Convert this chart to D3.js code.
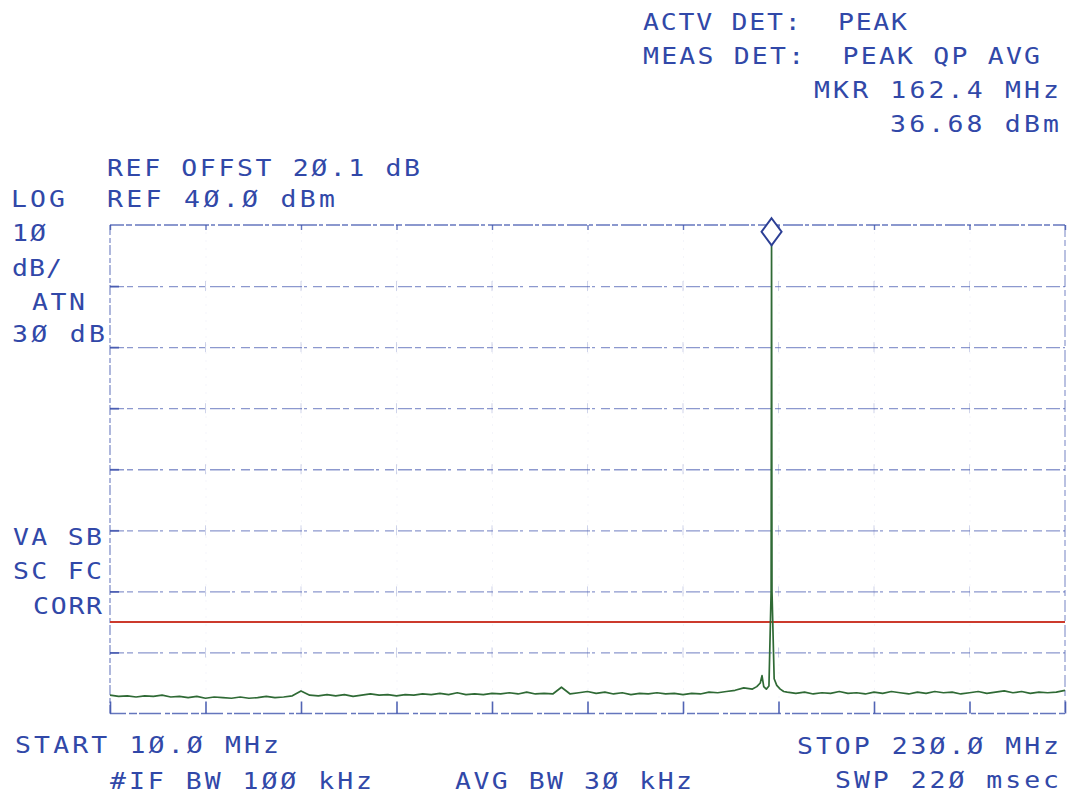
<!DOCTYPE html>
<html>
<head>
<meta charset="utf-8">
<script src="https://cdn.jsdelivr.net/npm/d3@7"></script>
<style>
  html, body { margin: 0; padding: 0; background: #ffffff; }
  svg { display: block; }
  text { white-space: pre; font-family: "DejaVu Sans Mono", monospace; }
</style>
</head>
<body>
<svg id="chart" width="1069" height="798"></svg>
<script>
// ---------------- DATA ----------------
const startFreq = 10.0;      // MHz
const stopFreq = 230.0;      // MHz
const sweepStep = 2.0;       // MHz between sweep points below
const refLevel = 40.0;       // dBm (top of screen)
const dbPerDiv = 10;
const yDivs = 8;
const xDivs = 10;
const limitLevel = -25.0;    // red limit line, dBm
const markerFreq = 162.4;    // MHz
const markerLevel = 36.68;   // dBm

// noise floor, one value per 2 MHz from 10 to 230 MHz
const sweepLevels = [
  -37.0,-37.2,-37.1,-37.3,-37.1,-37.2,-37.0,-37.3,-37.2,-37.4,
  -37.2,-37.5,-37.3,-37.4,-37.5,-37.3,-37.5,-37.4,-37.2,-37.4,
  -37.3,-37.1,-36.3,-37.0,-37.1,-36.9,-37.1,-36.9,-37.2,-37.0,
  -36.8,-37.0,-36.9,-37.1,-36.9,-37.0,-36.8,-36.9,-36.7,-36.9,
  -36.6,-36.9,-36.8,-36.9,-36.7,-36.8,-36.6,-36.8,-36.5,-36.8,
  -36.7,-36.8,-35.7,-36.8,-36.6,-36.4,-36.7,-36.5,-36.8,-36.6,
  -36.9,-36.7,-36.8,-36.6,-36.8,-36.7,-36.9,-36.7,-36.8,-36.5,
  -36.6,-36.4,-36.2,-35.8,-36.0,-35.4,-35.8,-35.9,-36.5,-36.7,
  -36.5,-36.8,-36.6,-36.7,-36.4,-36.7,-36.6,-36.8,-36.5,-36.7,
  -36.4,-36.6,-36.8,-36.5,-36.7,-36.4,-36.6,-36.5,-36.8,-36.6,
  -36.4,-36.7,-36.5,-36.3,-36.6,-36.4,-36.7,-36.5,-36.6,-36.5,
  -36.2
];

// detailed points around the carrier
const peakFreqs  = [159.0, 159.8, 160.2, 160.6, 161.2, 161.8, 162.3, 162.4, 162.5, 163.0, 163.6, 164.4, 165.2];
const peakLevels = [-35.6, -35.0, -33.8, -35.6, -36.0, -35.5, -20.0, 36.68, -20.0, -34.3, -35.4, -36.0, -36.4];

// text
const topRightLabels = ["ACTV DET:  PEAK", "MEAS DET:  PEAK QP AVG", "MKR 162.4 MHz", "36.68 dBm"];
const leftLabels = ["REF OFFST 2Ø.1 dB", "LOG", "REF 4Ø.Ø dBm", "1Ø", "dB/", "ATN", "3Ø dB", "VA SB", "SC FC", "CORR"];
const bottomLabels = ["START 1Ø.Ø MHz", "#IF BW 1ØØ kHz", "AVG BW 3Ø kHz", "STOP 23Ø.Ø MHz", "SWP 22Ø msec"];

// ---------------- LAYOUT ----------------
const plot = { left: 110, right: 1065, top: 225, bottom: 713.5 };
const textColor = "#3148a8";
const gridColor = "#3f54ad";
const traceColor = "#2f6a35";
const limitColor = "#cc3a2c";
const glyphStretch = 1.15;

// label positions: [x start, baseline, x end]
const topRightPos = [[643,30,905],[643,64,1038],[814,98,1057],[890,132,1057]];
const leftPos = [[107,176,418],[11,207,63],[107,207,333],[12,241,44],[12,276,60],[32,310,83],[12,342,103],[13,545,100],[13,579,100],[33,614,100]];
const bottomPos = [[15,753,277],[110,789,370],[455,789,690],[797,754,1057],[835,788,1057]];

const svg = d3.select("#chart");

const x = d3.scaleLinear().domain([startFreq, stopFreq]).range([plot.left, plot.right]);
const y = d3.scaleLinear().domain([refLevel, refLevel - dbPerDiv * yDivs]).range([plot.top, plot.bottom]);

const xTicks = d3.range(xDivs + 1).map(i => startFreq + i * (stopFreq - startFreq) / xDivs);
const yTicks = d3.range(yDivs + 1).map(i => refLevel - i * dbPerDiv);

// ---------- graticule ----------
const g = svg.append("g");

// faint vertical graticule (barely visible on the original)
g.append("g")
  .attr("transform", `translate(0,${plot.bottom})`)
  .call(d3.axisBottom(x).tickValues(xTicks.slice(1, -1)).tickSize(-(plot.bottom - plot.top)).tickFormat(""))
  .call(s => s.select(".domain").remove())
  .call(s => s.selectAll("line").attr("stroke", gridColor).attr("stroke-opacity", 0.12)
      .attr("stroke-width", 1).attr("stroke-dasharray", "1,7"));

// horizontal dashed graticule
g.append("g")
  .attr("transform", `translate(${plot.left},0)`)
  .call(d3.axisLeft(y).tickValues(yTicks.slice(1, -1)).tickSize(-(plot.right - plot.left)).tickFormat(""))
  .call(s => s.select(".domain").remove())
  .call(s => s.selectAll("line").attr("stroke", gridColor).attr("stroke-opacity", 0.6)
      .attr("stroke-width", 1.3).attr("stroke-dasharray", "14,3,6,5,20,2,3,6,9,4"));

// short solid starts of the gridlines at the left edge
g.append("g")
  .attr("transform", `translate(${plot.left},0)`)
  .call(d3.axisRight(y).tickValues(yTicks.slice(1, -1)).tickSize(9).tickFormat(""))
  .call(s => s.select(".domain").remove())
  .call(s => s.selectAll("line").attr("stroke", gridColor).attr("stroke-width", 1.8).attr("stroke-opacity", 0.85));

// small tick crosses at the graticule intersections
const inter = [];
xTicks.slice(1, -1).forEach(f => yTicks.slice(1, -1).forEach(l => inter.push([f, l])));
g.append("g").selectAll("line").data(inter).join("line")
  .attr("x1", d => x(d[0])).attr("x2", d => x(d[0]))
  .attr("y1", d => y(d[1]) - 5).attr("y2", d => y(d[1]) + 5)
  .attr("stroke", gridColor).attr("stroke-opacity", 0.25).attr("stroke-width", 1);

// frame
const frame = g.append("g").attr("fill", "none").attr("stroke", gridColor);
frame.append("line").attr("x1", plot.left).attr("x2", plot.right).attr("y1", plot.top).attr("y2", plot.top)
  .attr("stroke-width", 1.4).attr("stroke-opacity", 0.8).attr("stroke-dasharray", "14,2,6,3,20,2,4,3");
frame.append("line").attr("x1", plot.left).attr("x2", plot.right).attr("y1", plot.bottom).attr("y2", plot.bottom)
  .attr("stroke-width", 1.4).attr("stroke-opacity", 0.8).attr("stroke-dasharray", "16,3,8,2,22,4,5,2");
frame.append("line").attr("x1", plot.left).attr("x2", plot.left).attr("y1", plot.top).attr("y2", plot.bottom)
  .attr("stroke-width", 1.2).attr("stroke-opacity", 0.7).attr("stroke-dasharray", "10,3,5,2");
frame.append("line").attr("x1", plot.right).attr("x2", plot.right).attr("y1", plot.top).attr("y2", plot.bottom)
  .attr("stroke-width", 1.2).attr("stroke-opacity", 0.6).attr("stroke-dasharray", "12,3,6,4");

// bottom division ticks
g.append("g")
  .attr("transform", `translate(0,${plot.bottom})`)
  .call(d3.axisBottom(x).tickValues(xTicks).tickSize(-12).tickFormat(""))
  .call(s => s.select(".domain").remove())
  .call(s => s.selectAll("line").attr("stroke", gridColor).attr("stroke-width", 1.6).attr("stroke-opacity", 0.9));

// top division ticks
g.append("g")
  .attr("transform", `translate(0,${plot.top})`)
  .call(d3.axisTop(x).tickValues(xTicks).tickSize(-5).tickFormat(""))
  .call(s => s.select(".domain").remove())
  .call(s => s.selectAll("line").attr("stroke", gridColor).attr("stroke-width", 1.4).attr("stroke-opacity", 0.8));

// ---------- limit line ----------
svg.append("line")
  .attr("x1", x(startFreq)).attr("x2", x(stopFreq))
  .attr("y1", y(limitLevel)).attr("y2", y(limitLevel))
  .attr("stroke", limitColor).attr("stroke-width", 2);

// ---------- trace ----------
const points = [];
sweepLevels.forEach((v, i) => {
  const f = startFreq + i * sweepStep;
  if (f < peakFreqs[0] || f > peakFreqs[peakFreqs.length - 1]) points.push([f, v]);
});
peakFreqs.forEach((f, i) => points.push([f, peakLevels[i]]));
points.sort((a, b) => a[0] - b[0]);

const line = d3.line().x(d => x(d[0])).y(d => y(d[1]));
svg.append("path")
  .datum(points)
  .attr("d", line)
  .attr("fill", "none")
  .attr("stroke", traceColor)
  .attr("stroke-width", 1.7)
  .attr("stroke-linejoin", "round");

// ---------- marker ----------
const mx = x(markerFreq), my = y(markerLevel);
const dw = 10, dh = 13.5;
svg.append("path")
  .attr("d", `M${mx},${my - 2 * dh} L${mx + dw},${my - dh} L${mx},${my} L${mx - dw},${my - dh} Z`)
  .attr("fill", "#ffffff")
  .attr("stroke", "#2c3f95")
  .attr("stroke-width", 2);

// ---------- texts ----------
function drawLabels(labels, pos) {
  svg.append("g").selectAll("text").data(labels).join("text")
    .attr("transform", (d, i) => `translate(${pos[i][0]},${pos[i][1]}) scale(${glyphStretch},1)`)
    .attr("x", 0)
    .attr("y", 0)
    .attr("textLength", (d, i) => (pos[i][2] - pos[i][0] + 2) / glyphStretch)
    .attr("lengthAdjust", "spacing")
    .attr("font-size", 23)
    .attr("fill", textColor)
    .text(d => d);
}
drawLabels(topRightLabels, topRightPos);
drawLabels(leftLabels, leftPos);
drawLabels(bottomLabels, bottomPos);
</script>
</body>
</html>
